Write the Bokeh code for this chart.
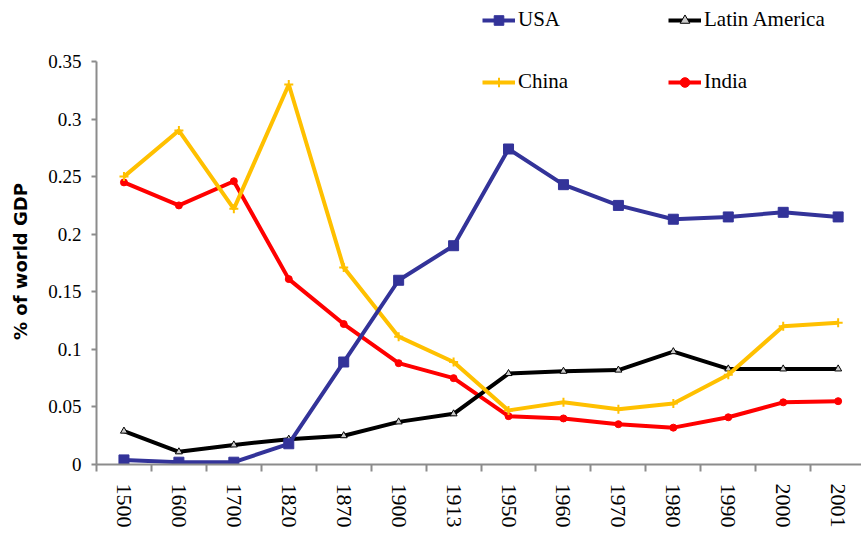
import math
from bokeh.plotting import figure
from bokeh.models import Range1d, FixedTicker, NumeralTickFormatter, Legend, LegendItem
from bokeh.embed import file_html
from bokeh.resources import INLINE

years = ["1500", "1600", "1700", "1820", "1870", "1900", "1913",
         "1950", "1960", "1970", "1980", "1990", "2000", "2001"]
usa = [0.004, 0.002, 0.002, 0.018, 0.089, 0.160, 0.190,
       0.274, 0.243, 0.225, 0.213, 0.215, 0.219, 0.215]
latin_america = [0.029, 0.011, 0.017, 0.022, 0.025, 0.037, 0.044,
                 0.079, 0.081, 0.082, 0.098, 0.083, 0.083, 0.083]
china = [0.250, 0.290, 0.222, 0.330, 0.171, 0.111, 0.089,
         0.047, 0.054, 0.048, 0.053, 0.078, 0.120, 0.123]
india = [0.245, 0.225, 0.246, 0.161, 0.122, 0.088, 0.075,
         0.042, 0.040, 0.035, 0.032, 0.041, 0.054, 0.055]
y_ticks = [0, 0.05, 0.1, 0.15, 0.2, 0.25, 0.3, 0.35]

x = list(range(len(years)))

SERIF = "'Liberation Serif'"

p = figure(width=861, height=537, output_backend="svg", toolbar_location=None,
           x_range=Range1d(-0.5, 13.425), y_range=Range1d(0, 0.396),
           min_border_left=96, min_border_right=0, min_border_top=8,
           min_border_bottom=73)
p.xgrid.grid_line_color = None
p.ygrid.grid_line_color = None
p.outline_line_color = None
p.background_fill_color = "white"

axis_col = "#8c8c8c"
# x axis
xa = p.xaxis[0]
xa.ticker = FixedTicker(ticks=x, minor_ticks=[i - 0.5 for i in range(len(years) + 1)])
xa.major_label_overrides = {i: y for i, y in enumerate(years)}
xa.major_tick_out = 0
xa.major_tick_in = 0
xa.minor_tick_out = 7
xa.minor_tick_in = 0
xa.minor_tick_line_color = axis_col
xa.minor_tick_line_width = 2
xa.axis_line_color = axis_col
xa.axis_line_width = 2
xa.major_label_orientation = -math.pi / 2
xa.major_label_text_font = SERIF
xa.major_label_text_font_size = "22px"
xa.major_label_text_color = "black"
xa.major_label_standoff = 12

# y axis
ya = p.yaxis[0]
ya.ticker = FixedTicker(ticks=y_ticks, minor_ticks=[])
ya.formatter = NumeralTickFormatter(format="0.[00]")
ya.bounds = (0, 0.35)
ya.axis_line_color = axis_col
ya.axis_line_width = 2
ya.major_tick_line_color = axis_col
ya.major_tick_line_width = 2
ya.major_tick_out = 5
ya.major_tick_in = 0
ya.minor_tick_line_color = None
ya.major_label_text_font = SERIF
ya.major_label_text_font_size = "19px"
ya.major_label_text_color = "black"
ya.major_label_standoff = 10
ya.axis_label = "% of world GDP" + "\u00a0" * 8
ya.axis_label_text_font = "'DejaVu Sans'"
ya.axis_label_text_font_style = "bold"
ya.axis_label_text_font_size = "18px"
ya.axis_label_text_color = "black"
ya.axis_label_standoff = 14

# series
r_in_l = p.line(x, india, line_color="#ff0000", line_width=4)
r_in_m = p.scatter(x, india, marker="circle", size=7, fill_color="#ff0000", line_color="#ff0000")
r_la_l = p.line(x, latin_america, line_color="black", line_width=4)
r_la_m = p.scatter(x, latin_america, marker="triangle", size=7, fill_color="#cccccc", line_color="black")
r_cn_l = p.line(x, china, line_color="#ffc000", line_width=4)
r_cn_m = p.scatter(x, china, marker="cross", size=9, line_color="#ffc000", line_width=2)
r_us_l = p.line(x, usa, line_color="#333399", line_width=4)
r_us_m = p.scatter(x, usa, marker="square", size=10, fill_color="#333399", line_color="#333399")

def make_legend(label, renderers, loc):
    leg = Legend(items=[LegendItem(label=label, renderers=renderers)], location=loc,
                 background_fill_alpha=0, border_line_color=None, padding=0, margin=0,
                 spacing=0, glyph_width=33, glyph_height=24, label_height=24,
                 label_standoff=3, label_text_font=SERIF,
                 label_text_font_size="21px", label_text_color="black")
    p.add_layout(leg)

make_legend("USA", [r_us_l, r_us_m], (386, 432))
make_legend("Latin America", [r_la_l, r_la_m], (572, 432))
make_legend("China", [r_cn_l, r_cn_m], (386, 370))
make_legend("India", [r_in_l, r_in_m], (572, 370))

open("out.html", "w").write(file_html(p, INLINE))
